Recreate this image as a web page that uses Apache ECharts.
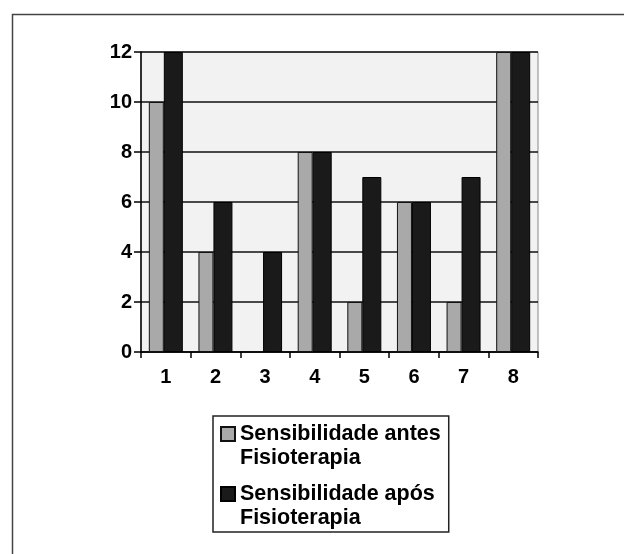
<!DOCTYPE html>
<html>
<head>
<meta charset="utf-8">
<script src="https://cdn.jsdelivr.net/npm/echarts@6/dist/echarts.min.js"></script>
<style>html,body{margin:0;padding:0;background:#fff}#c{width:624px;height:554px}</style>
</head>
<body>
<div id="c"></div>
<script>
var categories = ['1','2','3','4','5','6','7','8'];
var antes = [10, 4, 0, 8, 2, 6, 2, 12];
var apos = [12, 6, 4, 8, 7, 6, 7, 12];
var seriesNames = ['Sensibilidade antes\nFisioterapia', 'Sensibilidade após\nFisioterapia'];
var yTicks = [0, 2, 4, 6, 8, 10, 12];

var chart = echarts.init(document.getElementById('c'));
var font = 'Liberation Sans, Arial, sans-serif';
chart.setOption({
  animation: false,
  graphic: [{
    type: 'rect', left: 10, top: 12, silent: true,
    shape: { x: 0, y: 0, width: 640, height: 560 },
    style: { fill: 'none', stroke: '#444', lineWidth: 1.5 }
  }],
  grid: { left: 141, right: 86, top: 52, bottom: 202, show: true, backgroundColor: '#f2f2f2', borderColor: '#888', borderWidth: 1 },
  xAxis: {
    type: 'category', data: categories,
    axisLine: { lineStyle: { color: '#000', width: 1.5 } },
    axisTick: { show: true, length: 6, inside: false, lineStyle: { color: '#000', width: 1.5 } },
    axisLabel: { color: '#000', fontFamily: font, fontWeight: 'bold', fontSize: 20, margin: 15 }
  },
  yAxis: {
    type: 'value', min: 0, max: 12, interval: 2,
    axisLine: { show: true, lineStyle: { color: '#000', width: 1.5 } },
    axisTick: { show: true, length: 7, lineStyle: { color: '#000', width: 1.5 } },
    axisLabel: { color: '#000', fontFamily: font, fontWeight: 'bold', fontSize: 20, margin: 9,
      formatter: function (v) { return yTicks.indexOf(v) >= 0 ? String(v) : ''; } },
    splitLine: { lineStyle: { color: '#111', width: 1.5 } }
  },
  legend: {
    orient: 'vertical', left: 213, top: 416,
    padding: [-18, 8, 2, 7], itemGap: -12,
    borderColor: '#222', borderWidth: 1.5,
    itemWidth: 14, itemHeight: 14,
    icon: 'rect',
    formatter: function (name) { return '\n' + name; },
    textStyle: { color: '#000', fontFamily: font, fontWeight: 'bold', fontSize: 21.5, lineHeight: 24 },
    data: seriesNames
  },
  series: [{
    name: seriesNames[0], type: 'bar', data: antes, barWidth: 15, barGap: '0%',
    itemStyle: { color: '#a9a9a9', borderColor: '#111', borderWidth: 1 }
  }, {
    name: seriesNames[1], type: 'bar', data: apos, barWidth: 19,
    itemStyle: { color: '#1a1a1a', borderColor: '#000', borderWidth: 1 }
  }]
});
</script>
</body>
</html>
